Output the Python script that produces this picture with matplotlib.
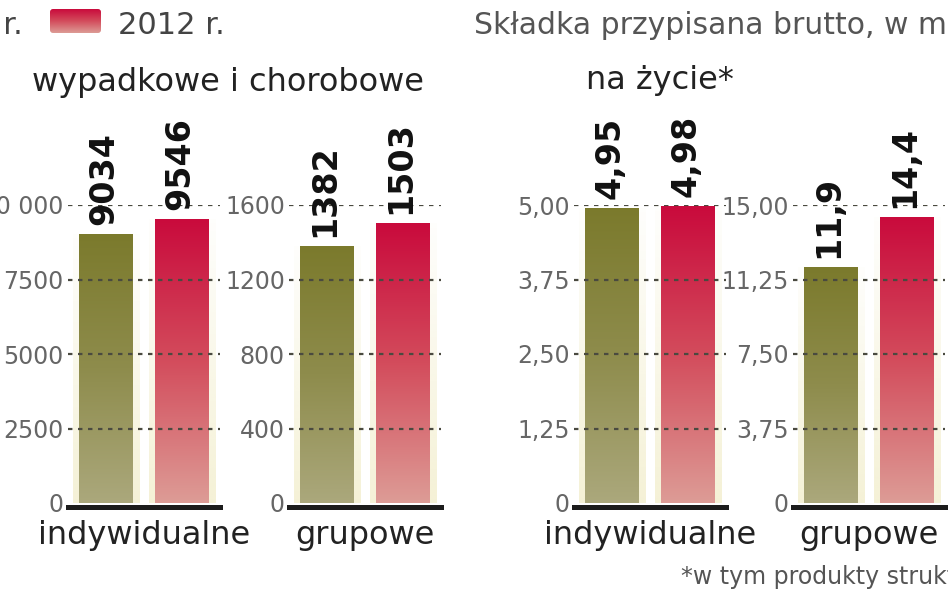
import numpy as np
import matplotlib
matplotlib.use('Agg')
import matplotlib.pyplot as plt
from matplotlib.colors import LinearSegmentedColormap, to_rgb
from matplotlib.patches import FancyBboxPatch

# składka przypisana brutto: 2011 vs 2012
lata = ['2011 r.', '2012 r.']
kategorie = ['indywidualne', 'grupowe']

wypadkowe_2011 = [9034, 1382]
wypadkowe_2012 = [9546, 1503]
zycie_2011 = [4.95, 11.9]
zycie_2012 = [4.98, 14.4]

ticks_wyp = [[0, 2500, 5000, 7500, 10000], [0, 400, 800, 1200, 1600]]
ticklabels_wyp = [['0', '2500', '5000', '7500', '10 000'], ['0', '400', '800', '1200', '1600']]
ticks_zyc = [[0, 1.25, 2.5, 3.75, 5.0], [0, 3.75, 7.5, 11.25, 15.0]]
ticklabels_zyc = [['0', '1,25', '2,50', '3,75', '5,00'], ['0', '3,75', '7,50', '11,25', '15,00']]

W, H = 948, 593
fig = plt.figure(figsize=(W / 100, H / 100), dpi=100)
fig.patch.set_facecolor('white')

# warstwa na napisy, współrzędne w pikselach
bg = fig.add_axes([0, 0, 1, 1], zorder=0)
bg.set_xlim(0, W)
bg.set_ylim(H, 0)
bg.axis('off')

oliwka = LinearSegmentedColormap.from_list('oliwka', ['#aba87c', '#8e8c4c', '#7b7a2c'])
czerwien = LinearSegmentedColormap.from_list('czerwien', ['#dd9c96', '#d34c5c', '#c90a3c'])
grad = np.linspace(0, 1, 256).reshape(-1, 1)

# kremowa poświata za słupkami, mocniejsza przy dole
halo = np.zeros((256, 1, 4))
halo[..., :3] = to_rgb('#f3efcf')
halo[:, 0, 3] = np.linspace(0.85, 0.05, 256)


def fill_gradient(ax, bars, img, **kw):
    for b in bars:
        x0, y0 = b.get_xy()
        im = ax.imshow(img, extent=[x0, x0 + b.get_width(), y0, y0 + b.get_height()],
                       origin='lower', aspect='auto', zorder=b.get_zorder(),
                       interpolation='bilinear', **kw)
        im.set_clip_path(b)


def panel(left, v2011, v2012, ticks, labels, nazwa):
    ax = fig.add_axes([left / W, 1 - 503 / H, 152 / W, 298 / H], zorder=1)
    ax.patch.set_alpha(0)
    x = np.arange(2)
    vals = [v2011, v2012]

    tlo = ax.bar(x, vals, width=0.88, color='none', edgecolor='none', zorder=1)
    fill_gradient(ax, tlo, halo)
    bars = ax.bar(x, vals, width=0.71, color='none', edgecolor='none', zorder=2)
    fill_gradient(ax, [bars[0]], grad, cmap=oliwka)
    fill_gradient(ax, [bars[1]], grad, cmap=czerwien)

    for t in ticks[1:]:
        ax.axhline(t, color='#4a4a40', lw=1.6, ls=(0, (2, 2.5)), zorder=3)

    for xi, v in zip(x, vals):
        ax.annotate(f'{v}'.replace('.', ','), (xi, v), xytext=(-2, 9),
                    textcoords='offset pixels', rotation=90, ha='center', va='bottom',
                    fontsize=24, fontweight='bold', color='#111', zorder=5,
                    annotation_clip=False)

    ax.set_xlim(-0.5, 1.5)
    ax.set_ylim(0, ticks[-1])
    ax.set_xticks([])
    ax.set_yticks(ticks, labels)
    ax.tick_params(axis='y', length=0, pad=3, labelsize=17, labelcolor='#666')
    for s in ['top', 'right', 'left']:
        ax.spines[s].set_visible(False)
    ax.spines['bottom'].set_position(('outward', 3))
    ax.spines['bottom'].set_linewidth(3.6)
    ax.spines['bottom'].set_color('#1c1c1c')

    bg.text(left + 76, 544, nazwa, ha='center', va='baseline', fontsize=23, color='#222')


panel(68, wypadkowe_2011[0], wypadkowe_2012[0], ticks_wyp[0], ticklabels_wyp[0], kategorie[0])
panel(289, wypadkowe_2011[1], wypadkowe_2012[1], ticks_wyp[1], ticklabels_wyp[1], kategorie[1])
panel(574, zycie_2011[0], zycie_2012[0], ticks_zyc[0], ticklabels_zyc[0], kategorie[0])
panel(793, zycie_2011[1], zycie_2012[1], ticks_zyc[1], ticklabels_zyc[1], kategorie[1])

# legenda
bg.text(23, 34, lata[0], ha='right', va='baseline', fontsize=22, color='#444')
swatch = FancyBboxPatch((50, 9), 51, 24, boxstyle='round,pad=0,rounding_size=3',
                        facecolor='none', edgecolor='none')
bg.add_patch(swatch)
im = bg.imshow(grad, extent=[50, 101, 33, 9], origin='lower', aspect='auto',
               cmap=czerwien, zorder=2)
im.set_clip_path(swatch)
bg.set_xlim(0, W)
bg.set_ylim(H, 0)
bg.text(118, 34, lata[1], va='baseline', fontsize=22, color='#444')

bg.text(474, 34, 'Składka przypisana brutto, w mln zł', va='baseline', fontsize=21.5, color='#555')
bg.text(32, 91, 'wypadkowe i chorobowe', va='baseline', fontsize=23, color='#222')
bg.text(586, 89, 'na życie*', va='baseline', fontsize=23, color='#222')
bg.text(681, 584, '*w tym produkty strukturyzowane', va='baseline', fontsize=17, color='#555')

fig.savefig('out.png', dpi=100)
